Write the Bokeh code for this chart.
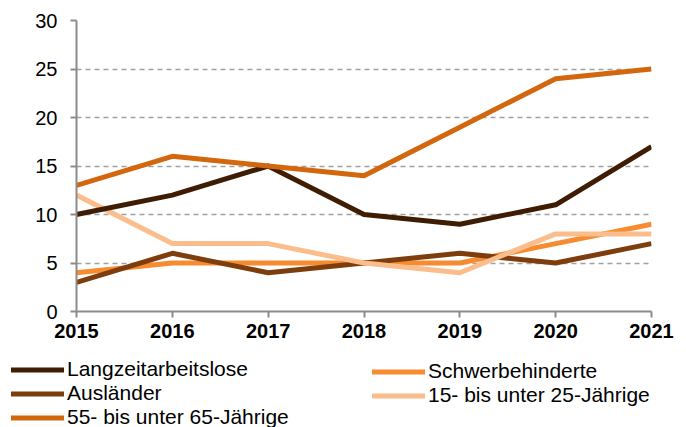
from bokeh.plotting import figure
from bokeh.models import Legend, LegendItem, Range1d, FixedTicker
from bokeh.embed import file_html
from bokeh.resources import INLINE

years = [2015, 2016, 2017, 2018, 2019, 2020, 2021]
langzeit = [10, 12, 15, 10, 9, 11, 17]
schwer = [4, 5, 5, 5, 5, 7, 9]
auslaender = [3, 6, 4, 5, 6, 5, 7]
jung = [12, 7, 7, 5, 4, 8, 8]
alt = [13, 16, 15, 14, 19, 24, 25]
y_ticks = [0, 5, 10, 15, 20, 25, 30]

names = ["Langzeitarbeitslose", "Schwerbehinderte", "Ausländer",
         "15- bis unter 25-Jährige", "55- bis unter 65-Jährige"]
values = {names[0]: langzeit, names[1]: schwer, names[2]: auslaender,
          names[3]: jung, names[4]: alt}
colors = {names[0]: "#3f1d04", names[1]: "#f78b30", names[2]: "#7e3d0c",
          names[3]: "#fbbd8b", names[4]: "#d3670d"}

FONT = "Liberation Sans"

p = figure(width=686, height=350, output_backend="svg", toolbar_location=None,
           x_range=Range1d(2015, 2021), y_range=Range1d(0, 30),
           min_border_left=76, min_border_right=35, min_border_top=20,
           min_border_bottom=39)
p.outline_line_color = None

draw_order = [names[1], names[2], names[3], names[0], names[4]]
for name in draw_order:
    p.line(years, values[name], line_color=colors[name], line_width=5,
           line_join="round")

p.xgrid.grid_line_color = None
p.ygrid.grid_line_color = "#a0a0a0"
p.ygrid.grid_line_dash = "5 4"
p.ygrid.grid_line_width = 1.5

p.yaxis.ticker = FixedTicker(ticks=y_ticks)
p.xaxis.ticker = FixedTicker(ticks=years)
for ax in (p.xaxis, p.yaxis):
    ax.axis_line_color = "#8c8c8c"
    ax.axis_line_width = 2
    ax.major_tick_line_color = "#8c8c8c"
    ax.major_tick_line_width = 2
    ax.major_tick_out = 6
    ax.major_tick_in = 0
    ax.minor_tick_line_color = None
    ax.major_label_text_font = FONT
    ax.major_label_text_font_size = "20px"
    ax.major_label_text_color = "black"
p.yaxis.major_label_standoff = 13
p.xaxis.major_label_standoff = 6
p.xaxis.major_label_text_font_style = "bold"

# legend panel (separate root so its frame spans the full width)
lg = figure(width=686, height=77, output_backend="svg", toolbar_location=None,
            x_range=Range1d(2015, 2021), y_range=Range1d(0, 30),
            min_border_left=0, min_border_right=0, min_border_top=0,
            min_border_bottom=0)
lg.axis.visible = False
lg.grid.visible = False
lg.outline_line_color = None

proxy = {}
for name in names:
    proxy[name] = lg.line(years, values[name], line_color=colors[name],
                          line_width=5, line_cap="round", visible=False)

def make_legend(item_names, loc):
    return Legend(items=[LegendItem(label=n, renderers=[proxy[n]]) for n in item_names],
                  location=loc, orientation="vertical",
                  label_text_font=FONT, label_text_font_size="21px",
                  label_text_color="black", glyph_width=53, glyph_height=21,
                  label_height=21, label_standoff=3, spacing=0, padding=0,
                  margin=0, border_line_color=None, background_fill_alpha=0,
                  inactive_fill_alpha=0, click_policy="none")

lg.add_layout(make_legend([names[0], names[2], names[4]], (11, -2)), "center")
lg.add_layout(make_legend([names[1], names[3]], (372, 20)), "center")

open("out.html", "w").write(file_html([p, lg], INLINE))
